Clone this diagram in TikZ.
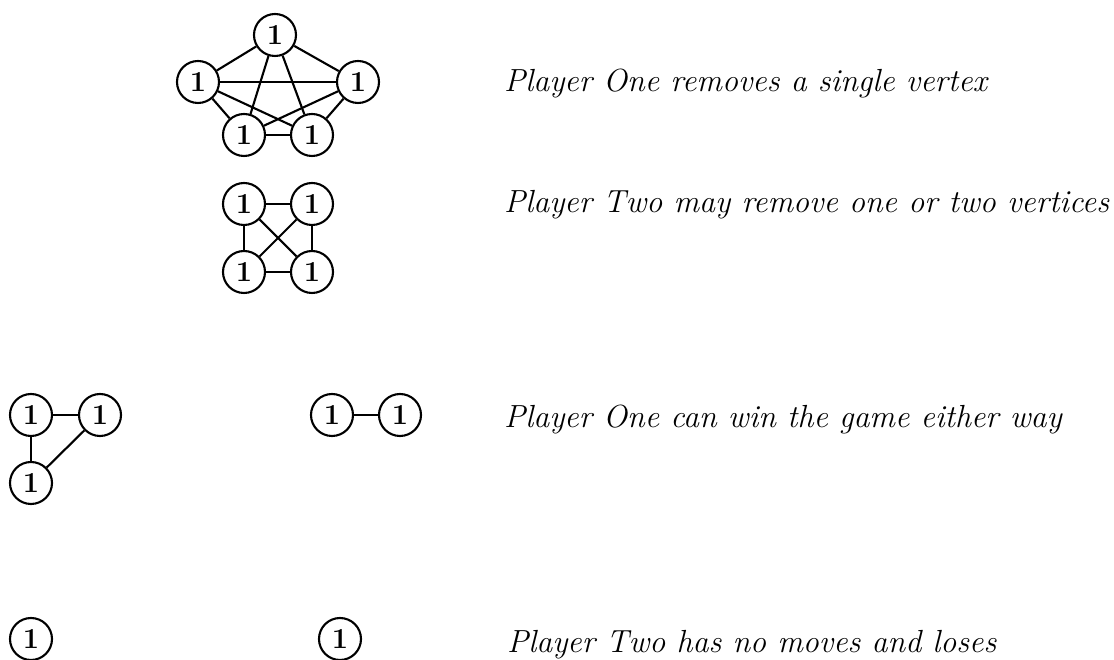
\documentclass[tikz,border=0pt]{standalone}
\usepackage{fontspec}
\usepackage{tikz}

\tikzset{
  vx/.style={draw,circle,line width=1.2pt,minimum size=.84cm,inner sep=0pt,
    font=\fontsize{16.5}{18}\selectfont\bfseries},
  say/.style={anchor=base west,inner sep=0pt,
    font=\fontsize{18.2}{22}\selectfont\itshape}
}

\begin{document}
\begin{tikzpicture}[line width=1.2pt]%Vertex removal game on K5
\useasboundingbox (0,0) rectangle (22.28,13.2);
% K5
\node[vx] (a1) at (5.50,12.50){1};
\node[vx] (a2) at (3.96,11.56){1};
\node[vx] (a3) at (7.16,11.56){1};
\node[vx] (a4) at (4.88,10.50){1};
\node[vx] (a5) at (6.24,10.50){1};
\draw (a1) -- (a2);
\draw (a1) -- (a3);
\draw (a1) -- (a4);
\draw (a1) -- (a5);
\draw (a2) -- (a3);
\draw (a2) -- (a4);
\draw (a2) -- (a5);
\draw (a3) -- (a4);
\draw (a3) -- (a5);
\draw (a4) -- (a5);
\node[say] (t1) at (10.06,11.36){Player One removes a single vertex};
% K4
\node[vx] (b1) at (4.88,9.12){1};
\node[vx] (b2) at (6.24,9.12){1};
\node[vx] (b3) at (4.88,7.76){1};
\node[vx] (b4) at (6.24,7.76){1};
\draw (b1) -- (b2);
\draw (b1) -- (b3);
\draw (b2) -- (b4);
\draw (b3) -- (b4);
\draw (b1) -- (b4);
\draw (b2) -- (b3);
\node[say] (t2) at (10.06,8.94){Player Two may remove one or two vertices};
% K3 and K2
\node[vx] (c1) at (.62,4.90){1};
\node[vx] (c2) at (2.00,4.90){1};
\node[vx] (c3) at (.62,3.54){1};
\draw (c1) -- (c2);
\draw (c1) -- (c3);
\draw (c2) -- (c3);
\node[vx] (d1) at (6.64,4.90){1};
\node[vx] (d2) at (8.00,4.90){1};
\draw (d1) -- (d2);
\node[say] (t3) at (10.06,4.64){Player One can win the game either way};
% K1
\node[vx] (e1) at (.62,.42){1};
\node[vx] (f1) at (6.80,.42){1};
\node[say] (t4) at (10.12,.14){Player Two has no moves and loses};
\end{tikzpicture}
\end{document}
